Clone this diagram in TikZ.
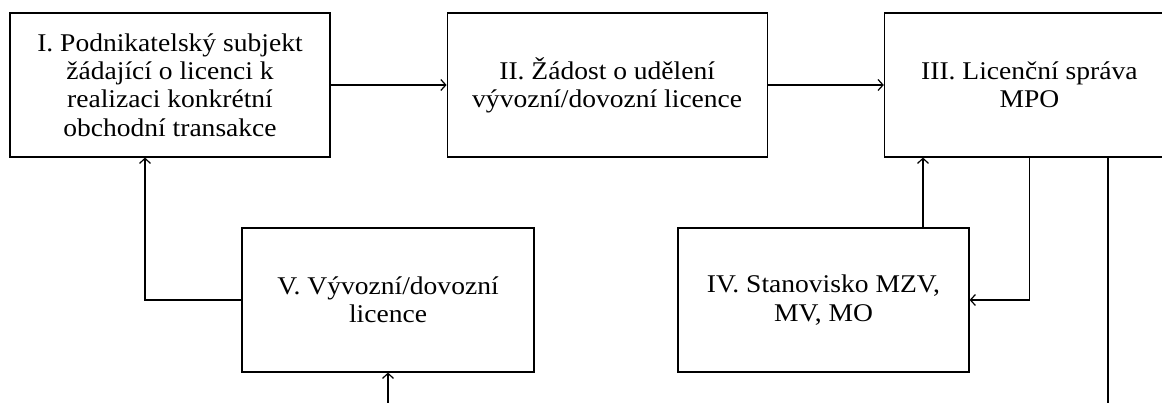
\documentclass[tikz,border=0pt]{standalone}
\usepackage{fontspec}
\setmainfont{Liberation Serif}[FakeStretch=1.08]
\usetikzlibrary{arrows.meta, positioning, calc}

\begin{document}
\begin{tikzpicture}[
        x=1pt, y=1pt,
        node distance=116pt,
        every node/.style={font=\fontsize{25.5}{28.3}\selectfont},
        stage/.style={draw, line width=1.2pt, rectangle, align=center, minimum height=144pt, inner sep=0pt},
        line/.style={draw, line width=1.2pt, -{Straight Barb[length=5pt, width=11pt]}}
    ]
        \useasboundingbox (0,0) rectangle (1162,403);

        % Stages
        \node[stage, minimum width=320pt] (subjekt) at (170,318) {I. Podnikatelský subjekt\\žádající o licenci k\\realizaci konkrétní\\obchodní transakce};
        \node[stage, minimum width=320pt, right=of subjekt] (zadost) {II. Žádost o udělení\\vývozní/dovozní licence};
        \node[stage, minimum width=290pt, right=of zadost] (sprava) {III. Licenční správa\\MPO};
        \node[stage, minimum width=291pt] (stanovisko) at (823.5,103) {IV. Stanovisko MZV,\\MV, MO};
        \node[stage, minimum width=292pt] (licence) at (388,103) {V. Vývozní/dovozní\\licence};

        % Loose ends
        \coordinate (vstup) at (388,0);
        \coordinate (vystup) at (1108,0);
        \coordinate (zpet) at ($(stanovisko.north)+(99.5,0)$);

        % Connections
        \draw[line] (subjekt.east) -- (zadost.west);
        \draw[line] (zadost.east) -- (sprava.west);
        \draw[line] (zpet) -- (zpet |- sprava.south);
        \draw[line] (sprava.south) |- (stanovisko.east);
        \draw[line width=1.2pt] (vystup |- sprava.south) -- (vystup);
        \draw[line] (vstup) -- (licence.south);
        \draw[line] (licence.west) -| ($(subjekt.south)+(-25,0)$);
    \end{tikzpicture}
\end{document}
